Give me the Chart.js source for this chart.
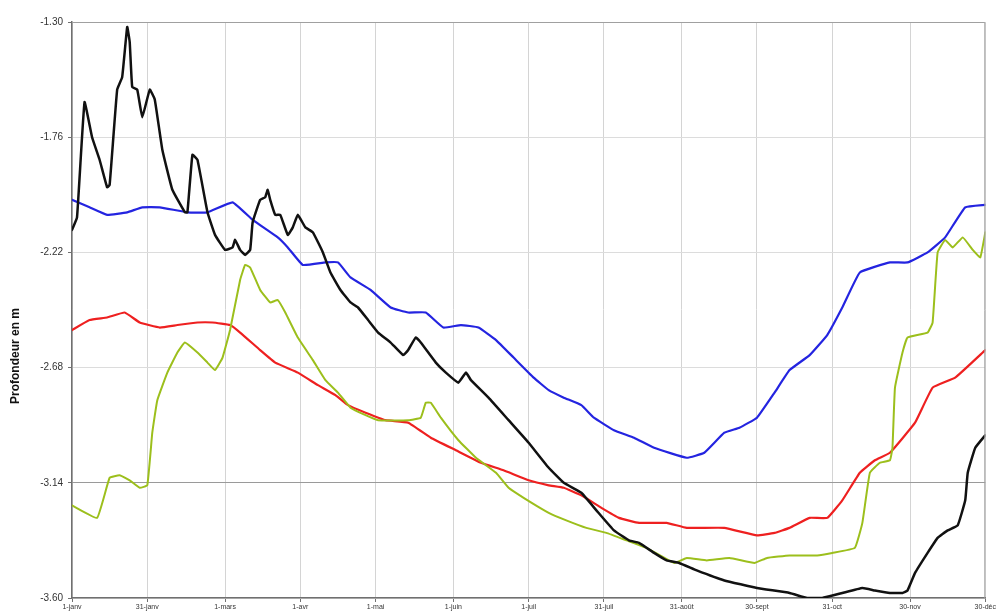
<!DOCTYPE html>
<html>
<head>
<meta charset="utf-8">
<script src="https://cdn.jsdelivr.net/npm/chart.js@4"></script>
<style>
body { margin: 0; background: #fff; }
#wrap { width: 997px; height: 614px; }
</style>
</head>
<body>
<div id="wrap"><canvas id="depthChart" width="997" height="614"></canvas></div>
<script>
// axis ticks
const tickDays = [0, 30, 61, 91, 121, 152, 182, 212, 243, 273, 303, 334, 364];
const tickLabels = ["1-janv", "31-janv", "1-mars", "1-avr", "1-mai", "1-juin", "1-juil", "31-juil", "31-août", "30-sept", "31-oct", "30-nov", "30-déc"];
const depthTicks = [-3.60, -3.14, -2.68, -2.22, -1.76, -1.30];

// -----------------------------
// series (day of year / depth in m)
// -----------------------------
const blackDays = [0, 2, 5, 8, 11, 14, 15, 18, 20, 22, 23, 24, 26, 28, 31, 33, 36, 40, 45, 46, 48, 50, 54, 57, 61, 64, 65, 67, 69, 71, 72, 75, 77, 78, 79, 81, 83, 86, 88, 90, 93, 96, 100, 103, 107, 111, 114, 118, 122, 127, 132, 134, 137, 139, 145, 149, 154, 157, 159, 166, 174, 182, 190, 196, 203, 209, 216, 222, 226, 232, 237, 242, 249, 260, 273, 286, 293, 299, 307, 315, 320, 326, 331, 333, 336, 341, 345, 349, 353, 356, 357, 360, 364];
const blackDepth = [-2.13, -2.08, -1.62, -1.76, -1.85, -1.96, -1.95, -1.57, -1.52, -1.32, -1.38, -1.56, -1.57, -1.68, -1.57, -1.61, -1.81, -1.97, -2.06, -2.06, -1.83, -1.85, -2.06, -2.15, -2.21, -2.20, -2.17, -2.21, -2.23, -2.21, -2.10, -2.01, -2.00, -1.97, -2.01, -2.07, -2.07, -2.15, -2.12, -2.07, -2.12, -2.14, -2.22, -2.30, -2.37, -2.42, -2.44, -2.49, -2.54, -2.58, -2.63, -2.61, -2.56, -2.58, -2.66, -2.70, -2.74, -2.70, -2.73, -2.80, -2.89, -2.98, -3.08, -3.14, -3.18, -3.25, -3.33, -3.37, -3.38, -3.42, -3.45, -3.46, -3.49, -3.53, -3.56, -3.58, -3.60, -3.60, -3.58, -3.56, -3.57, -3.58, -3.58, -3.57, -3.50, -3.42, -3.36, -3.33, -3.31, -3.21, -3.10, -3.00, -2.95];

const blueDays = [0, 7, 14, 22, 28, 35, 46, 54, 64, 72, 82, 86, 92, 101, 106, 111, 119, 127, 134, 141, 148, 155, 162, 169, 176, 184, 190, 196, 203, 208, 216, 224, 232, 245, 252, 260, 266, 273, 280, 286, 294, 301, 307, 314, 326, 333, 341, 348, 356, 364];
const blueDepth = [-2.01, -2.04, -2.07, -2.06, -2.04, -2.04, -2.06, -2.06, -2.02, -2.09, -2.16, -2.20, -2.27, -2.26, -2.26, -2.32, -2.37, -2.44, -2.46, -2.46, -2.52, -2.51, -2.52, -2.57, -2.64, -2.72, -2.77, -2.80, -2.83, -2.88, -2.93, -2.96, -3.00, -3.04, -3.02, -2.94, -2.92, -2.88, -2.78, -2.69, -2.63, -2.55, -2.44, -2.30, -2.26, -2.26, -2.22, -2.16, -2.04, -2.03];

const redDays = [0, 7, 14, 21, 27, 35, 42, 50, 56, 63, 67, 75, 81, 90, 98, 105, 110, 117, 125, 134, 143, 153, 163, 172, 182, 190, 196, 203, 211, 218, 226, 237, 245, 260, 273, 280, 286, 294, 301, 307, 314, 320, 326, 336, 343, 352, 364];
const redDepth = [-2.53, -2.49, -2.48, -2.46, -2.50, -2.52, -2.51, -2.50, -2.50, -2.51, -2.54, -2.61, -2.66, -2.70, -2.75, -2.79, -2.83, -2.86, -2.89, -2.90, -2.96, -3.01, -3.06, -3.09, -3.13, -3.15, -3.16, -3.19, -3.24, -3.28, -3.30, -3.30, -3.32, -3.32, -3.35, -3.34, -3.32, -3.28, -3.28, -3.21, -3.10, -3.05, -3.02, -2.90, -2.76, -2.72, -2.61];

const greenDays = [0, 10, 15, 19, 23, 27, 30, 32, 34, 38, 42, 45, 50, 54, 57, 60, 63, 67, 69, 71, 75, 79, 82, 85, 90, 96, 101, 106, 111, 117, 122, 134, 139, 141, 143, 147, 154, 161, 169, 174, 180, 190, 197, 205, 213, 221, 229, 240, 245, 253, 262, 272, 277, 286, 297, 303, 312, 315, 318, 322, 326, 327, 328, 331, 333, 341, 343, 345, 348, 351, 355, 359, 362, 364];
const greenDepth = [-3.23, -3.28, -3.12, -3.11, -3.13, -3.16, -3.15, -2.94, -2.81, -2.70, -2.62, -2.58, -2.62, -2.66, -2.69, -2.64, -2.53, -2.33, -2.27, -2.28, -2.37, -2.42, -2.41, -2.46, -2.56, -2.65, -2.73, -2.78, -2.84, -2.87, -2.89, -2.89, -2.88, -2.82, -2.82, -2.88, -2.97, -3.04, -3.10, -3.16, -3.20, -3.26, -3.29, -3.32, -3.34, -3.37, -3.40, -3.46, -3.44, -3.45, -3.44, -3.46, -3.44, -3.43, -3.43, -3.42, -3.40, -3.30, -3.10, -3.06, -3.05, -3.00, -2.76, -2.62, -2.56, -2.54, -2.50, -2.22, -2.17, -2.20, -2.16, -2.21, -2.24, -2.14];

function toPoints(days, depth) {
    return days.map((d, i) => ({ x: d, y: depth[i] }));
}

// y title sits a bit below the middle of the axis, drawn by hand
const yTitle = {
    id: "yTitle",
    afterDraw(chart) {
        const ctx = chart.ctx;
        const a = chart.chartArea;
        ctx.save();
        ctx.strokeStyle = "#a0a0a0";
        ctx.lineWidth = 1;
        ctx.beginPath();
        ctx.moveTo(a.left, a.top + 0.5);
        ctx.lineTo(a.right - 0.5, a.top + 0.5);
        ctx.lineTo(a.right - 0.5, a.bottom);
        ctx.stroke();
        ctx.translate(16, 356);
        ctx.rotate(-Math.PI / 2);
        ctx.font = "bold 12px 'Liberation Sans', Arial, sans-serif";
        ctx.fillStyle = "#111";
        ctx.textAlign = "center";
        ctx.textBaseline = "middle";
        ctx.fillText("Profondeur en m", 0, 0);
        ctx.restore();
    }
};

new Chart(document.getElementById("depthChart"), {

type: "line",

data: {
datasets: [
{ data: toPoints(blackDays, blackDepth), borderColor: "#111111", borderWidth: 2.5 },
{ data: toPoints(blueDays, blueDepth), borderColor: "#2424e0", borderWidth: 2.2 },
{ data: toPoints(greenDays, greenDepth), borderColor: "#9cbf1c", borderWidth: 2 },
{ data: toPoints(redDays, redDepth), borderColor: "#ee2020", borderWidth: 2.2 }
]
},

options: {

responsive: false,
animation: false,
layout: { padding: { top: 22, right: 7, left: 0, bottom: 0 } },

elements: {
point: { radius: 0 },
line: { tension: 0.1, borderJoinStyle: "round", borderCapStyle: "round" }
},

plugins: {
legend: { display: false },
tooltip: { enabled: false }
},

scales: {
x: {
type: "linear",
min: 0,
max: 364,
afterBuildTicks: function (scale) {
scale.ticks = tickDays.map(v => ({ value: v }));
},
afterFit: function (scale) { scale.height = 16; },
border: { color: "#707070", width: 1.5 },
grid: { color: "#d4d4d4", tickLength: 4, tickColor: "#707070" },
ticks: {
autoSkip: false,
maxRotation: 0,
padding: 1,
color: "#333",
font: { size: 7, family: "'Liberation Sans', Arial, sans-serif" },
callback: function (v) { return tickLabels[tickDays.indexOf(v)]; }
}
},
y: {
min: -3.60,
max: -1.30,
afterBuildTicks: function (scale) {
scale.ticks = depthTicks.map(v => ({ value: v }));
},
afterFit: function (scale) { scale.width = 72; },
border: { color: "#707070", width: 1.5 },
grid: {
tickLength: 4,
tickColor: "#707070",
color: function (c) {
return c.tick && c.tick.value === -3.14 ? "#9a9a9a" : "#dcdcdc";
}
},
ticks: {
padding: 5,
color: "#333",
font: { size: 10, family: "'Liberation Sans', Arial, sans-serif" },
callback: function (v) { return v.toFixed(2); }
}
}
}

},

plugins: [yTitle]

});
</script>
</body>
</html>
